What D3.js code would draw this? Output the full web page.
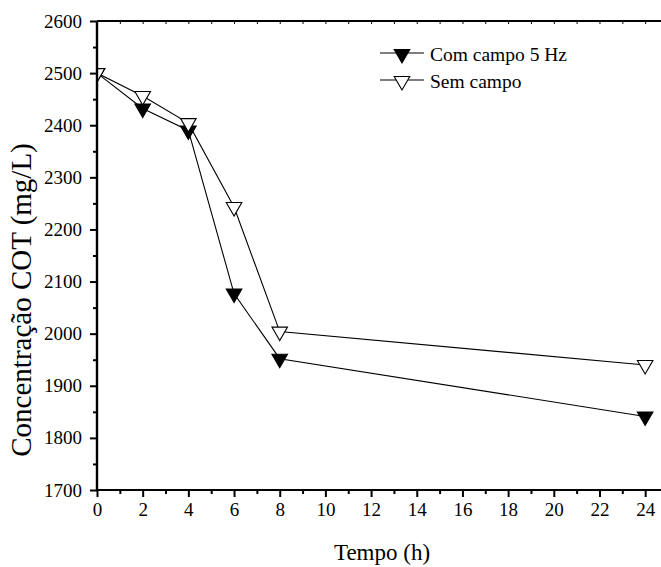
<!DOCTYPE html>
<html>

<head>
    <meta charset="UTF-8" />
    <script src="https://d3js.org/d3.v7.min.js"></script>
    <style>
        body { margin: 0; background: #fff; }
    </style>
</head>

<body>
    <script>
        // tempo (h)
        let tempo = [0, 2, 4, 6, 8, 24];
        let comCampo = [2500, 2432, 2390, 2077, 1952, 1841];
        let semCampo = [2500, 2456, 2404, 2243, 2004, 1940];
        let seriesNames = ["Com campo 5 Hz", "Sem campo"];
        let xTicks = [0, 2, 4, 6, 8, 10, 12, 14, 16, 18, 20, 22, 24];
        let yTicks = [1700, 1800, 1900, 2000, 2100, 2200, 2300, 2400, 2500, 2600];

        let serif = '"Liberation Serif", "Times New Roman", Times, serif';
        let width = 661;
        let height = 567;
        let margin = { top: 21, right: -7, bottom: 77, left: 97 };

        let svg = d3.select("body")
            .append("svg")
            .attr("width", width)
            .attr("height", height)

        let x = d3.scaleLinear()
            .domain([0, 25])
            .range([margin.left, width - margin.right]);

        let y = d3.scaleLinear()
            .domain([1700, 2600])
            .range([height - margin.bottom, margin.top]);

        svg.append("clipPath")
            .attr("id", "plotclip")
            .append("rect")
            .attr("x", margin.left)
            .attr("y", margin.top - 10)
            .attr("width", width - margin.left)
            .attr("height", height - margin.bottom - margin.top + 10);

        let series = [
            { name: seriesNames[0], values: comCampo, fill: "#000" },
            { name: seriesNames[1], values: semCampo, fill: "#fff" }
        ];

        let line = d3.line()
            .x(function (d, i) { return x(tempo[i]) })
            .y(function (d) { return y(d) });

        let tri = d3.symbol().type(d3.symbolTriangle).size(105);

        let plot = svg.append("g").attr("clip-path", "url(#plotclip)");

        series.forEach(function (s) {
            plot.append("path")
                .datum(s.values)
                .attr("fill", "none")
                .attr("stroke", "#000")
                .attr("stroke-width", 1.1)
                .attr("d", line);
        });

        series.forEach(function (s) {
            plot.selectAll(null)
                .data(s.values)
                .join("path")
                .attr("d", tri)
                .attr("transform", function (d, i) {
                    return `translate(${x(tempo[i])},${y(d)}) rotate(180)`
                })
                .attr("fill", s.fill)
                .attr("stroke", "#000")
                .attr("stroke-width", 1.1);
        });

        // bottom axis
        let xMinor = d3.range(1, 25, 2);
        svg.append("g")
            .attr("transform", `translate(0,${height - margin.bottom})`)
            .call(d3.axisBottom(x).tickValues(xMinor).tickSize(4).tickFormat(""))
            .call(function (g) {
                g.select(".domain").remove();
                g.selectAll("line").attr("stroke-width", 2);
            });

        svg.append("g")
            .attr("transform", `translate(0,${height - margin.bottom})`)
            .call(d3.axisBottom(x).tickValues(xTicks).tickSize(7).tickPadding(6).tickFormat(d3.format("d")))
            .call(function (g) {
                g.select(".domain").attr("stroke-width", 2.2).attr("d", `M${margin.left},0H${width + 10}`);
                g.selectAll("line").attr("stroke-width", 2);
                g.selectAll("text").style("font-size", "19px").style("font-family", serif).attr("fill", "#000");
            });

        // top axis
        svg.append("g")
            .attr("transform", `translate(0,${margin.top})`)
            .call(d3.axisTop(x).tickValues(d3.range(1, 26, 1)).tickSize(-3).tickFormat(""))
            .call(function (g) {
                g.select(".domain").attr("stroke-width", 2.2).attr("d", `M${margin.left},0H${width + 10}`);
                g.selectAll("line").attr("stroke-width", 1);
            });

        // left axis
        let yMinor = d3.range(1750, 2600, 100);
        svg.append("g")
            .attr("transform", `translate(${margin.left},0)`)
            .call(d3.axisLeft(y).tickValues(yMinor).tickSize(4).tickFormat(""))
            .call(function (g) {
                g.select(".domain").remove();
                g.selectAll("line").attr("stroke-width", 2);
            });

        svg.append("g")
            .attr("transform", `translate(${margin.left},0)`)
            .call(d3.axisLeft(y).tickValues(yTicks).tickSize(7).tickPadding(8).tickFormat(d3.format("d")))
            .call(function (g) {
                g.select(".domain").attr("stroke-width", 2.4).attr("d", `M0,${margin.top}V${height - margin.bottom}`);
                g.selectAll("line").attr("stroke-width", 2);
                g.selectAll("text").style("font-size", "19px").style("font-family", serif).attr("fill", "#000");
            });

        // axis titles
        svg.append("text")
            .attr("x", 382)
            .attr("y", 560)
            .style("text-anchor", "middle")
            .style("font-family", serif)
            .style("font-size", "23px")
            .text("Tempo (h)");

        svg.append("text")
            .attr("transform", "translate(31,300) rotate(-90)")
            .style("text-anchor", "middle")
            .style("font-family", serif)
            .style("font-size", "29px")
            .text("Concentração COT (mg/L)");

        // legend
        let legend = svg.append("g");
        series.forEach(function (s, i) {
            let ly = 53 + i * 27;
            legend.append("line")
                .attr("x1", 380).attr("x2", 424)
                .attr("y1", ly).attr("y2", ly)
                .attr("stroke", "#000")
                .attr("stroke-width", 1.1);
            legend.append("path")
                .attr("d", tri)
                .attr("transform", `translate(402,${ly + 1}) rotate(180)`)
                .attr("fill", s.fill)
                .attr("stroke", "#000")
                .attr("stroke-width", 1.1);
            legend.append("text")
                .attr("x", 430)
                .attr("y", ly + 8)
                .style("font-family", serif)
                .style("font-size", "19.5px")
                .text(s.name);
        });
    </script>
</body>

</html>
